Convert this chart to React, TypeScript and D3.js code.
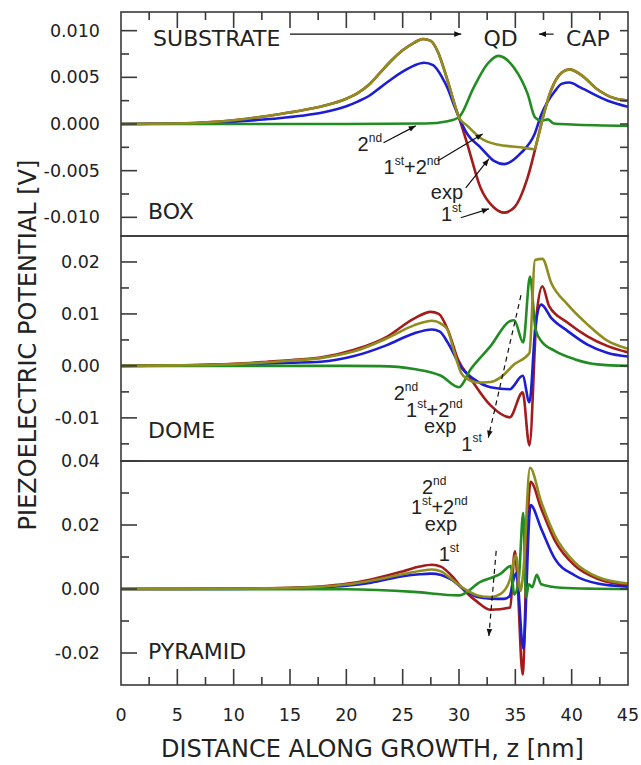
import React from 'react';
import * as d3 from 'd3';

type Pt = [number, number];

// z [nm] vs piezoelectric potential in units of 1e-3 V
const boxFirst: Pt[] = [[0, 0], [5, 0.05], [8, 0.2], [10, 0.4], [12, 0.7], [14, 1.05], [16, 1.45], [18, 1.95], [20, 2.7], [21, 3.3], [22, 4.2], [23, 5.5], [24, 6.8], [25, 7.9], [26, 8.7], [26.8, 9.1], [27.5, 8.9], [28.1, 7.8], [29.0, 4.6], [29.7, 1.75], [30.0, 0.7], [30.75, -2.2], [31.9, -6.8], [33.1, -8.95], [34.0, -9.5], [34.9, -8.95], [36.1, -5.7], [37.0, -1.5], [37.6, 1.4], [38.2, 3.7], [39.1, 5.5], [39.8, 5.85], [40.8, 5.3], [42.3, 3.7], [43.8, 2.75], [45, 2.5]];
const boxSum: Pt[] = [[0, 0], [5, 0.05], [8, 0.2], [10, 0.4], [12, 0.7], [14, 1.05], [16, 1.45], [18, 1.95], [20, 2.7], [21, 3.3], [22, 4.2], [23, 5.5], [24, 6.8], [25, 7.9], [26, 8.7], [26.8, 9.1], [27.5, 8.9], [28.1, 7.8], [29.0, 4.6], [29.7, 1.75], [30.0, 0.7], [30.75, -0.2], [31.9, -1.5], [33.4, -2.2], [35.5, -2.5], [36.7, -2.7], [37.0, -1.5], [37.6, 1.4], [38.2, 3.7], [39.1, 5.5], [39.8, 5.85], [40.8, 5.3], [42.3, 3.7], [43.8, 2.75], [45, 2.5]];
const boxExp: Pt[] = [[0, 0], [5, 0.02], [8, 0.12], [10, 0.25], [12, 0.42], [14, 0.62], [16, 0.88], [18, 1.25], [20, 1.9], [21, 2.4], [22, 3.0], [23, 3.9], [24, 4.8], [25, 5.6], [26, 6.25], [26.9, 6.56], [27.7, 6.3], [28.5, 5.0], [29.0, 3.8], [29.5, 2.2], [30.0, 0.7], [30.75, -1.1], [31.9, -2.5], [33.1, -3.95], [34.0, -4.3], [35.5, -3.1], [36.7, -1.1], [37.3, 1.0], [38.5, 3.5], [39.1, 4.3], [39.8, 4.45], [40.8, 3.9], [43.2, 2.5], [45, 1.85]];
const boxSecond: Pt[] = [[0, 0], [20, 0], [27, 0.05], [29, 0.3], [30, 0.75], [31.3, 3.9], [32.5, 6.4], [33.5, 7.3], [34.9, 6.0], [36.1, 3.2], [36.75, 0.7], [37.3, 0.35], [37.9, 0.5], [38.4, 0.05], [40, -0.05], [45, -0.2]];

const domeFirst: Pt[] = [[0, 0], [5, 0.1], [10, 0.4], [13, 0.8], [15, 1.1], [17.7, 1.6], [20.7, 3.1], [23.6, 5.6], [26, 9.1], [27.5, 10.4], [28.2, 10.0], [29.0, 7.0], [29.9, 1.3], [31.05, -2.5], [32.8, -7.6], [34.5, -9.9], [35.65, -5.1], [36.25, -15.3], [36.9, 10.0], [37.4, 15.3], [38.0, 11.5], [39.65, 8.3], [41.4, 5.7], [43.2, 3.8], [45, 2.6]];
const domeSum: Pt[] = [[0, 0], [5, 0.1], [10, 0.35], [15, 1.0], [17.7, 1.5], [20.7, 2.8], [23.6, 5.3], [26, 7.8], [27.6, 8.7], [28.5, 8.0], [29.0, 6.9], [29.6, 2.5], [30.2, -1.4], [30.8, -2.6], [31.6, -3.2], [32.8, -3.1], [33.7, -2.2], [34.9, 0.3], [36.25, 2.5], [36.75, 20.4], [37.4, 20.6], [38.2, 15.9], [39.65, 11.8], [41.4, 8.0], [43.2, 4.8], [45, 3.3]];
const domeExp: Pt[] = [[0, 0], [5, 0.05], [10, 0.25], [15, 0.6], [17.7, 0.8], [20.7, 1.9], [23.6, 4.0], [26, 6.25], [27.6, 7.0], [28.3, 6.6], [29.0, 4.5], [30.2, -0.3], [31.3, -2.5], [32.8, -4.1], [34.5, -4.5], [35.65, -1.9], [36.25, -7.0], [36.8, 8.0], [37.3, 11.8], [38.2, 9.2], [39.65, 6.7], [41.4, 4.1], [43.2, 2.5], [45, 1.8]];
const domeSecond: Pt[] = [[0, 0], [20, 0], [23, -0.05], [26, -0.6], [28.4, -1.9], [30.0, -4.1], [31.05, -0.6], [32.8, 3.8], [34.5, 8.6], [34.9, 8.8], [35.7, 4.5], [36.3, 17.2], [36.8, 7.0], [37.3, 4.8], [38.5, 2.9], [40.25, 1.3], [42.3, 0.3], [45, 0]];

const pyrFirst: Pt[] = [[0, 0], [10, 0.1], [15, 0.4], [17.7, 0.8], [20, 1.6], [22.2, 3.0], [25, 5.5], [26.5, 7.0], [27.6, 7.6], [28.4, 7.0], [29.3, 4.3], [30.45, -0.4], [31.65, -4.1], [32.8, -6.5], [34.55, -5.8], [34.95, 11.8], [35.15, 5.0], [35.65, -26.7], [36.1, 22.3], [36.35, 33.5], [37.3, 25.1], [38.5, 15.2], [40.25, 7.4], [42.3, 3.2], [45, 1.2]];
const pyrSum: Pt[] = [[0, 0], [10, 0.1], [15, 0.35], [17.7, 0.7], [20, 1.4], [22.2, 2.6], [25, 4.6], [26.5, 5.6], [27.6, 6.1], [28.4, 5.5], [29.3, 3.2], [30.45, 0.1], [31.65, -2.0], [32.8, -2.5], [33.7, -1.5], [34.5, 2.7], [35.05, 10.5], [35.45, -0.6], [35.7, 5.0], [36.3, 37.9], [37.3, 27.2], [38.5, 16.8], [40.25, 8.4], [42.3, 3.75], [45, 1.7]];
const pyrExp: Pt[] = [[0, 0], [10, 0.05], [15, 0.25], [17.7, 0.5], [20, 1.0], [22.2, 2.0], [25, 4.0], [26.5, 4.6], [27.5, 4.8], [28.4, 4.4], [29.3, 3.0], [30.45, -0.2], [31.65, -2.5], [32.8, -3.0], [34.0, -3.1], [34.5, -2.2], [34.85, 3.0], [35.1, 5.0], [35.7, -18.6], [36.35, 26.2], [37.3, 18.8], [38.5, 9.5], [40.25, 4.3], [42.3, 1.7], [45, 0.7]];
const pyrSecond: Pt[] = [[0, 0], [20, -0.1], [26, -0.9], [30.0, -2.0], [31.9, 2.2], [33.7, 4.8], [34.6, 7.2], [34.9, -1.7], [35.3, 3.0], [35.7, 23.8], [35.95, -2.7], [36.2, 1.5], [36.5, 0.6], [36.9, 4.4], [37.3, 1.5], [39.05, 0.4], [42, 0.1], [45, 0]];

const xTickValues = [0, 5, 10, 15, 20, 25, 30, 35, 40, 45];
const boxTicks = [10, 5, 0, -5, -10];
const boxTickLabels = ['0.010', '0.005', '0.000', '-0.005', '-0.010'];
const domeTicks = [20, 10, 0, -10];
const domeTickLabels = ['0.02', '0.01', '0.00', '-0.01'];
const pyrTicks = [40, 20, 0, -20];
const pyrTickLabels = ['0.04', '0.02', '0.00', '-0.02'];

const colors = { first: '#a31b1b', exp: '#1d1dd4', second: '#218c21', sum: '#8f8d1f' };
const order: (keyof typeof colors)[] = ['first', 'exp', 'second', 'sum'];

const X0 = 121;
const X1 = 628;
const x = d3.scaleLinear().domain([0, 45]).range([X0, X1]);

const panels = [
  {
    key: 'box', top: 12, bottom: 236, domain: [-12, 12], ticks: boxTicks, tickLabels: boxTickLabels,
    minor: [7.5, 2.5, -2.5, -7.5], rightStep: 2.5, rightRange: [-10, 10], xTicks: 'top',
    series: { first: boxFirst, exp: boxExp, second: boxSecond, sum: boxSum },
    name: { t: 'BOX', z: 2.4, v: -10.16 },
    labels: [
      { t: '2^nd', z: 21.0, v: -2.9, a: 'start' },
      { t: '1^st+2^nd', z: 23.3, v: -5.35, a: 'start' },
      { t: 'exp', z: 27.5, v: -8.0, a: 'start' },
      { t: '1^st', z: 28.4, v: -10.37, a: 'start' },
    ],
    arrows: [
      { z1: 23.3, v1: -2.0, z2: 26.16, v2: -0.2, dash: false },
      { z1: 28.1, v1: -3.96, z2: 32.1, v2: -1.07, dash: false },
      { z1: 30.6, v1: -6.85, z2: 32.65, v2: -3.74, dash: false },
      { z1: 30.16, v1: -10.05, z2: 32.65, v2: -9.09, dash: false },
      { z1: 15.0, v1: 9.63, z2: 30.2, v2: 9.63, dash: false },
      { z1: 38.4, v1: 9.63, z2: 37.1, v2: 9.63, dash: false },
    ],
    regions: [
      { t: 'SUBSTRATE', z: 2.85, v: 8.34, a: 'start' },
      { t: 'QD', z: 33.7, v: 8.34, a: 'middle' },
      { t: 'CAP', z: 39.5, v: 8.34, a: 'start' },
    ],
  },
  {
    key: 'dome', top: 236, bottom: 461, domain: [-18.3, 25], ticks: domeTicks, tickLabels: domeTickLabels,
    minor: [15, 5, -5, -15], rightStep: 5, rightRange: [-15, 20], xTicks: 'none',
    series: { first: domeFirst, exp: domeExp, second: domeSecond, sum: domeSum },
    name: { t: 'DOME', z: 2.4, v: -13.8 },
    labels: [
      { t: '2^nd', z: 24.2, v: -6.5, a: 'start' },
      { t: '1^st+2^nd', z: 25.3, v: -9.75, a: 'start' },
      { t: 'exp', z: 26.9, v: -13.0, a: 'start' },
      { t: '1^st', z: 30.2, v: -16.4, a: 'start' },
    ],
    arrows: [{ z1: 35.5, v1: 13.6, z2: 32.6, v2: -13.8, dash: true }],
    regions: [],
  },
  {
    key: 'pyr', top: 461, bottom: 685, domain: [-30, 40], ticks: pyrTicks, tickLabels: pyrTickLabels,
    minor: [30, 10, -10], rightStep: 10, rightRange: [-20, 30], xTicks: 'bottom',
    series: { first: pyrFirst, exp: pyrExp, second: pyrSecond, sum: pyrSum },
    name: { t: 'PYRAMID', z: 2.4, v: -21.9 },
    labels: [
      { t: '2^nd', z: 27.8, v: 29.7, a: 'middle' },
      { t: '1^st+2^nd', z: 28.25, v: 23.4, a: 'middle' },
      { t: 'exp', z: 28.4, v: 18.1, a: 'middle' },
      { t: '1^st', z: 29.1, v: 8.75, a: 'middle' },
    ],
    arrows: [{ z1: 33.3, v1: 11.9, z2: 32.65, v2: -14.7, dash: true }],
    regions: [],
  },
];

const ink = '#222';
const frame = '#3a3a3a';
const sans = 'DejaVu Sans, Verdana, sans-serif';
const arial = 'Liberation Sans, Arial, sans-serif';

// "1^st+2^nd" -> normal / superscript pieces
function Ordinal({ t, px, py, anchor }: { t: string; px: number; py: number; anchor: string }) {
  const pieces: { s: string; sup: boolean }[] = [];
  t.split(/(\^[a-z]+)/).filter(Boolean).forEach(p => {
    if (p.startsWith('^')) pieces.push({ s: p.slice(1), sup: true });
    else pieces.push({ s: p, sup: false });
  });
  let shifted = false;
  return (
    <text x={px} y={py} fontFamily={arial} fontSize={20} fill={ink} textAnchor={anchor}>
      {pieces.map((p, i) => {
        let dy = 0;
        if (p.sup && !shifted) { dy = -9; shifted = true; }
        else if (!p.sup && shifted) { dy = 9; shifted = false; }
        return (
          <tspan key={i} dy={dy} fontSize={p.sup ? 12 : 20}>{p.s}</tspan>
        );
      })}
    </text>
  );
}

function Panel({ p }: { p: typeof panels[number] }) {
  const y = d3.scaleLinear().domain(p.domain).range([p.bottom, p.top]);
  const line = d3.line<Pt>().x(d => x(d[0])).y(d => y(d[1])).curve(d3.curveMonotoneX);
  const rightTicks = d3.range(p.rightRange[0], p.rightRange[1] + 0.001, p.rightStep);
  const xMinor = d3.range(2.5, 45, 5);
  const xMajor = xTickValues.slice(1, -1);
  const xt = p.xTicks;
  const edge = xt === 'top' ? p.top : p.bottom;
  const dir = xt === 'top' ? 1 : -1;
  return (
    <g>
      <defs>
        <clipPath id={`clip-${p.key}`}>
          <rect x={X0} y={p.top} width={X1 - X0} height={p.bottom - p.top} />
        </clipPath>
      </defs>
      <g clipPath={`url(#clip-${p.key})`}>
        {order.map(k => (
          <path key={k} d={line(p.series[k]) ?? ''} fill="none" stroke={colors[k]} strokeWidth={2.6}
            strokeLinejoin="round" strokeLinecap="round" />
        ))}
      </g>
      <rect x={X0} y={p.top} width={X1 - X0} height={p.bottom - p.top} fill="none" stroke={frame} strokeWidth={1.6} />
      {p.ticks.map((v, i) => (
        <g key={`t${v}`}>
          <line x1={X0} x2={X0 + 16} y1={y(v)} y2={y(v)} stroke={frame} strokeWidth={1.6} />
          <text x={100} y={y(v) + 6} textAnchor="end" fontFamily={sans} fontSize={17.5} fill={ink}>{p.tickLabels[i]}</text>
        </g>
      ))}
      {p.minor.map(v => (
        <line key={`m${v}`} x1={X0} x2={X0 + 8} y1={y(v)} y2={y(v)} stroke={frame} strokeWidth={1.6} />
      ))}
      {rightTicks.map(v => (
        <line key={`r${v}`} x1={X1} x2={X1 - 8} y1={y(v)} y2={y(v)} stroke={frame} strokeWidth={1.6} />
      ))}
      {xt !== 'none' && xMajor.map(z => (
        <line key={`xM${z}`} x1={x(z)} x2={x(z)} y1={edge} y2={edge + dir * 16} stroke={frame} strokeWidth={1.6} />
      ))}
      {xt !== 'none' && xMinor.map(z => (
        <line key={`xm${z}`} x1={x(z)} x2={x(z)} y1={edge} y2={edge + dir * 8} stroke={frame} strokeWidth={1.6} />
      ))}
      <text x={x(p.name.z)} y={y(p.name.v)} fontFamily={sans} fontSize={22} fill={ink}>{p.name.t}</text>
      {p.regions.map(r => (
        <text key={r.t} x={x(r.z)} y={y(r.v)} textAnchor={r.a} fontFamily={sans} fontSize={22} fill={ink}>{r.t}</text>
      ))}
      {p.labels.map(l => (
        <Ordinal key={l.t} t={l.t} px={x(l.z)} py={y(l.v)} anchor={l.a} />
      ))}
      {p.arrows.map((a, i) => (
        <line key={`a${i}`} x1={x(a.z1)} y1={y(a.v1)} x2={x(a.z2)} y2={y(a.v2)} stroke="#111"
          strokeWidth={1.2} strokeDasharray={a.dash ? '5,4' : undefined} markerEnd="url(#head)" />
      ))}
    </g>
  );
}

export default function App() {
  return (
    <svg width={641} height={765} style={{ position: 'absolute', left: 0, top: 0, background: '#fff' }}>
      <defs>
        <marker id="head" viewBox="0 0 10 10" refX={10} refY={5} markerUnits="userSpaceOnUse"
          markerWidth={9} markerHeight={7} orient="auto">
          <path d="M0,1 L10,5 L0,9 z" fill="#111" />
        </marker>
      </defs>
      <rect width={641} height={765} fill="#fff" />
      {panels.map(p => <Panel key={p.key} p={p} />)}
      {xTickValues.map(z => (
        <text key={z} x={x(z)} y={721} textAnchor="middle" fontFamily={sans} fontSize={17.5} fill={ink}>{z}</text>
      ))}
      <text x={(X0 + X1) / 2 - 2} y={757} textAnchor="middle" fontFamily={sans} fontSize={24} fill={ink}>
        DISTANCE ALONG GROWTH, z [nm]
      </text>
      <text transform="translate(36,345) rotate(-90)" textAnchor="middle" fontFamily={sans} fontSize={24} fill={ink}>
        PIEZOELECTRIC POTENTIAL [V]
      </text>
    </svg>
  );
}
